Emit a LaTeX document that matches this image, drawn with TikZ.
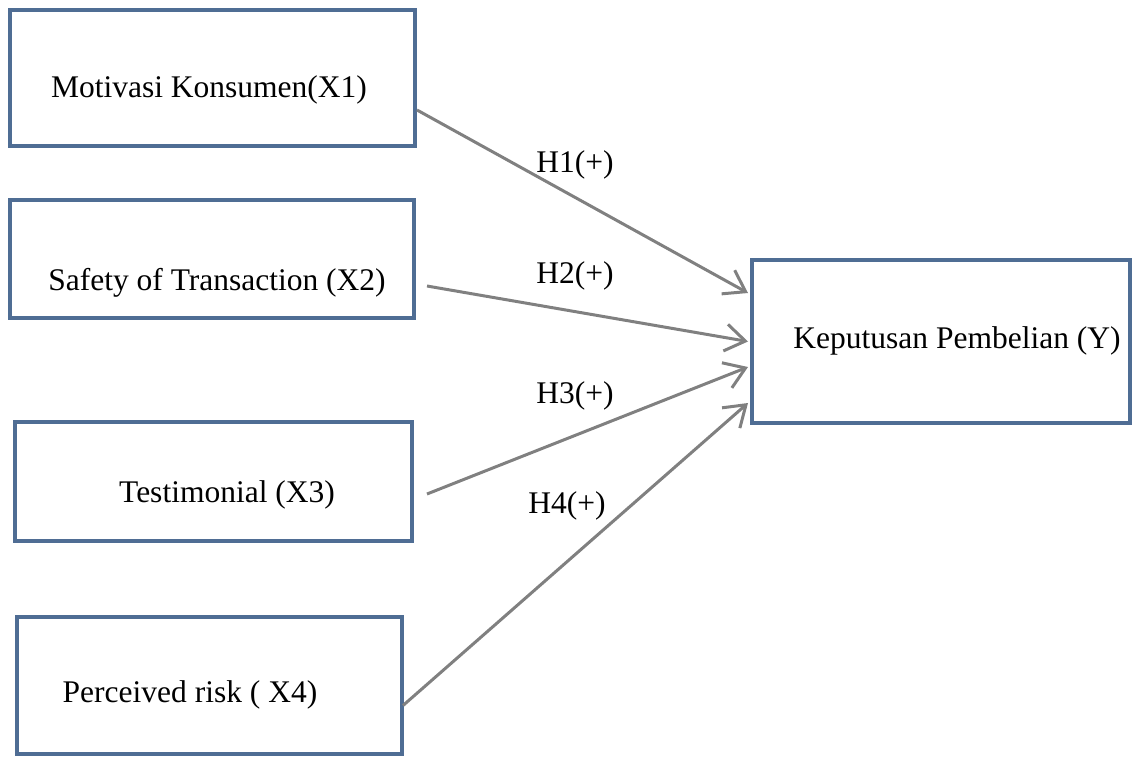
\documentclass[tikz,border=0pt]{standalone}
\usepackage{fontspec}
\setmainfont{Liberation Serif}
\usetikzlibrary{arrows.meta,calc,positioning}
\definecolor{boxblue}{RGB}{79,109,148}
\definecolor{arrgray}{RGB}{128,128,128}

\begin{document}
\begin{tikzpicture}[x=1pt,y=-1pt,
  box/.style={draw=boxblue,line width=4pt,fill=white,inner sep=0pt},
  txt/.style={font=\fontsize{31.5}{38}\selectfont,inner sep=0pt,anchor=base},
  hyp/.style={draw=arrgray,line width=3pt,-{Straight Barb[length=20pt,width=27pt]}}]
 \useasboundingbox (0,0) rectangle (1132,756);
 % independent variables
 \node[box,minimum width=405pt,minimum height=136pt] (x1) at (212.5,78) {};
 \node[box,minimum width=404pt,minimum height=118pt] (x2) at (212,259) {};
 \node[box,minimum width=397pt,minimum height=119pt] (x3) at (213.5,481.5) {};
 \node[box,minimum width=385pt,minimum height=137pt] (x4) at (209.5,685.5) {};
 % dependent variable
 \node[box,minimum width=378pt,minimum height=163pt] (y) at (941,341.5) {};
 \node[txt] (tx1) at (209,97) {Motivasi Konsumen(X1)};
 \node[txt] (tx2) at (217,290) {Safety of Transaction (X2)};
 \node[txt] (tx3) at (227,502) {Testimonial (X3)};
 \node[txt] (tx4) at (190,702) {Perceived risk ( X4)};
 \node[txt] (ty) at (957,348) {Keputusan Pembelian (Y)};
 % hypotheses
 \draw[hyp] ([shift={(0,32)}]x1.east) -- ([shift={(-2,-48.5)}]y.west);
 \draw[hyp] ([shift={(11,27)}]x2.east) -- ([shift={(-2,0)}]y.west);
 \draw[hyp] ([shift={(13,12.5)}]x3.east) -- ([shift={(-2,25.5)}]y.west);
 \draw[hyp] ([shift={(-1,20)}]x4.east) -- ([shift={(-2,61.5)}]y.west);
 \node[txt] (h1) at (575,172) {H1(+)};
 \node[txt] (h2) at (575,283) {H2(+)};
 \node[txt] (h3) at (575,403) {H3(+)};
 \node[txt] (h4) at (567,513) {H4(+)};
\end{tikzpicture}
\end{document}
